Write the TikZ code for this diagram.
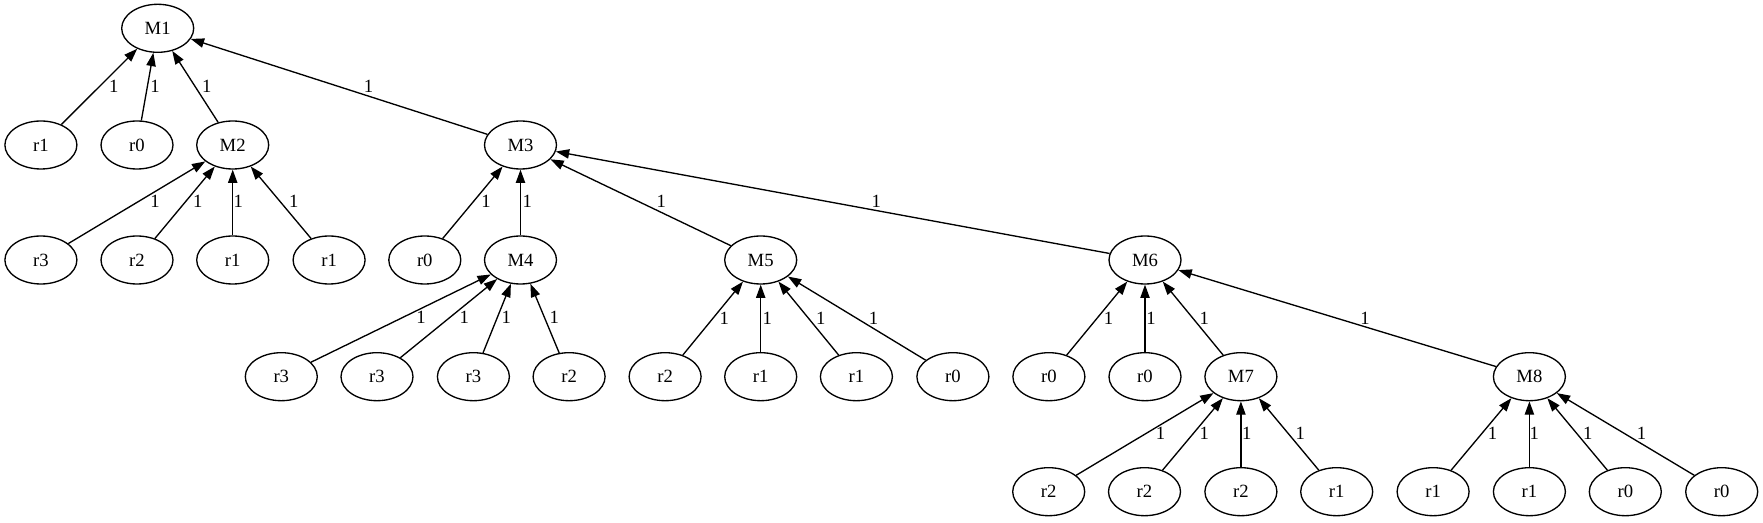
\documentclass[tikz,border=0pt]{standalone}
\usepackage{fontspec}
\setmainfont{Liberation Serif}
\usepackage{tikz}
\usetikzlibrary{shapes.geometric}
\usetikzlibrary{arrows.meta}
\tikzstyle{vertex} = [ellipse, minimum width=54pt, minimum height=36pt, inner sep=0pt, draw=black, line width=1pt, font=\fontsize{14}{16}\selectfont]
\tikzstyle{weight} = [inner sep=0pt, font=\fontsize{14}{16}\selectfont]
\tikzstyle{arrow} = [line width=1pt, -{Triangle[length=10pt, width=7pt]}]

\begin{document}
\begin{tikzpicture}[x=0.75pt, y=-0.75pt]
                        \useasboundingbox (0,0) rectangle (1763,523);
                        % rank 0 and 1
                        \node (m1) [vertex] at (157.7,28.3) {M1};
                        \node (m1r1) [vertex] at (40.9,145) {r1};
                        \node (m1r0) [vertex] at (137,145) {r0};
                        \node (m2) [vertex] at (232.7,145) {M2};
                        \node (m3) [vertex] at (520.5,145) {M3};
                        % rank 2
                        \node (m2r3) [vertex] at (40.9,260) {r3};
                        \node (m2r2) [vertex] at (137,260) {r2};
                        \node (m2r1a) [vertex] at (232.7,260) {r1};
                        \node (m2r1b) [vertex] at (329.1,260) {r1};
                        \node (m3r0) [vertex] at (424.8,260) {r0};
                        \node (m4) [vertex] at (520.5,260) {M4};
                        \node (m5) [vertex] at (760.7,260) {M5};
                        \node (m6) [vertex] at (1145,260) {M6};
                        % rank 3
                        \node (m4r3a) [vertex] at (281.3,376.7) {r3};
                        \node (m4r3b) [vertex] at (377,376.7) {r3};
                        \node (m4r3c) [vertex] at (473.4,376.7) {r3};
                        \node (m4r2) [vertex] at (569.1,376.7) {r2};
                        \node (m5r2) [vertex] at (665.1,376.7) {r2};
                        \node (m5r1a) [vertex] at (760.7,376.7) {r1};
                        \node (m5r1b) [vertex] at (856.4,376.7) {r1};
                        \node (m5r0) [vertex] at (952.9,376.7) {r0};
                        \node (m6r0a) [vertex] at (1048.9,376.7) {r0};
                        \node (m6r0b) [vertex] at (1145,376.7) {r0};
                        \node (m7) [vertex] at (1240.9,376.7) {M7};
                        \node (m8) [vertex] at (1529.4,376.7) {M8};
                        % rank 4
                        \node (m7r2a) [vertex] at (1048.7,491.7) {r2};
                        \node (m7r2b) [vertex] at (1144.5,491.7) {r2};
                        \node (m7r2c) [vertex] at (1240.9,491.7) {r2};
                        \node (m7r1) [vertex] at (1336.7,491.7) {r1};
                        \node (m8r1a) [vertex] at (1433.1,491.7) {r1};
                        \node (m8r1b) [vertex] at (1529.4,491.7) {r1};
                        \node (m8r0a) [vertex] at (1625.3,491.7) {r0};
                        \node (m8r0b) [vertex] at (1721.7,491.7) {r0};
                        % edges
                        \draw [arrow] (m1r1) -- (m1) node [weight] at (113.7,86) {1};
                        \draw [arrow] (m1r0) -- (m1) node [weight] at (155,86) {1};
                        \draw [arrow] (m2) -- (m1) node [weight] at (206.7,86) {1};
                        \draw [arrow] (m3) -- (m1) node [weight] at (368.5,86) {1};
                        \draw [arrow] (m2r3) -- (m2) node [weight] at (155,201.7) {1};
                        \draw [arrow] (m2r2) -- (m2) node [weight] at (197.9,201.7) {1};
                        \draw [arrow] (m2r1a) -- (m2) node [weight] at (238.4,201.7) {1};
                        \draw [arrow] (m2r1b) -- (m2) node [weight] at (293.9,201.7) {1};
                        \draw [arrow] (m3r0) -- (m3) node [weight] at (486,201.7) {1};
                        \draw [arrow] (m4) -- (m3) node [weight] at (527.4,201.7) {1};
                        \draw [arrow] (m5) -- (m3) node [weight] at (661.2,201.7) {1};
                        \draw [arrow] (m6) -- (m3) node [weight] at (876.3,201.7) {1};
                        \draw [arrow] (m4r3a) -- (m4) node [weight] at (421,317.7) {1};
                        \draw [arrow] (m4r3b) -- (m4) node [weight] at (464.2,317.7) {1};
                        \draw [arrow] (m4r3c) -- (m4) node [weight] at (506.3,317.7) {1};
                        \draw [arrow] (m4r2) -- (m4) node [weight] at (554.2,317.7) {1};
                        \draw [arrow] (m5r2) -- (m5) node [weight] at (724.4,318.3) {1};
                        \draw [arrow] (m5r1a) -- (m5) node [weight] at (767.2,318.3) {1};
                        \draw [arrow] (m5r1b) -- (m5) node [weight] at (820.8,318.3) {1};
                        \draw [arrow] (m5r0) -- (m5) node [weight] at (873.6,318.3) {1};
                        \draw [arrow] (m6r0a) -- (m6) node [weight] at (1108.5,318.3) {1};
                        \draw [arrow] (m6r0b) -- (m6) node [weight] at (1151,318.3) {1};
                        \draw [arrow] (m7) -- (m6) node [weight] at (1204.4,318.3) {1};
                        \draw [arrow] (m8) -- (m6) node [weight] at (1365,318.3) {1};
                        \draw [arrow] (m7r2a) -- (m7) node [weight] at (1160.6,433.3) {1};
                        \draw [arrow] (m7r2b) -- (m7) node [weight] at (1204.4,433.3) {1};
                        \draw [arrow] (m7r2c) -- (m7) node [weight] at (1246.7,433.3) {1};
                        \draw [arrow] (m7r1) -- (m7) node [weight] at (1300.2,433.3) {1};
                        \draw [arrow] (m8r1a) -- (m8) node [weight] at (1492.5,433.3) {1};
                        \draw [arrow] (m8r1b) -- (m8) node [weight] at (1534.3,433.3) {1};
                        \draw [arrow] (m8r0a) -- (m8) node [weight] at (1587.8,433.3) {1};
                        \draw [arrow] (m8r0b) -- (m8) node [weight] at (1641.4,433.3) {1};
                    \end{tikzpicture}
\end{document}
